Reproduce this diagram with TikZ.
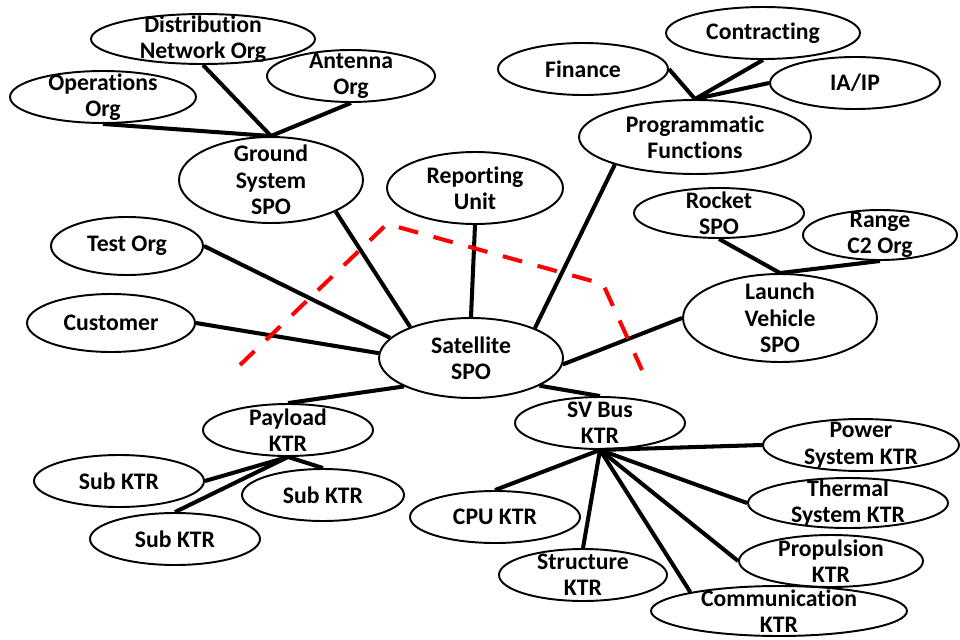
\documentclass[tikz,border=0pt]{standalone}
\usepackage{fontspec}
\setmainfont{Carlito}[Ligatures=NoCommon]
\usetikzlibrary{shapes.geometric}
\tikzset{
	oval/.style 2 args={ellipse, draw, line width=1.1pt, inner sep=0pt, minimum width=#1, minimum height=#2},
	lbl/.style={font=\bfseries\fontsize{13.5}{15}\selectfont, align=center, inner sep=0pt},
	link/.style={line width=2.3pt},
	cutline/.style={red, line width=2.3pt, dash pattern=on 0.4cm off 0.32cm}
}
\begin{document}
\begin{tikzpicture}[x=0.02cm, y=-0.02cm]
			%%%%% START %%%%%
			\useasboundingbox (0, 0) rectangle (960, 639);
			
			% ground side
			\node[oval={4.48cm}{1.0cm}, label={[lbl]center:{Distribution\\Network Org}}] (dist) at (203, 39) {};
			\node[oval={3.36cm}{1.04cm}, label={[lbl]center:{Antenna\\Org}}] (ant) at (351, 76) {};
			\node[oval={3.72cm}{1.04cm}, label={[lbl]center:{Operations\\Org}}] (ops) at (103, 97) {};
			\node[oval={3.68cm}{1.72cm}, label={[lbl]center:{Ground\\System\\SPO}}] (ground) at (271, 180) {};
			\node[oval={3.04cm}{1.16cm}, label={[lbl]center:{Test Org}}] (test) at (127, 246) {};
			\node[oval={3.36cm}{1.16cm}, label={[lbl]center:{Customer}}] (cust) at (111, 323) {};
			\node[oval={3.52cm}{1.44cm}, label={[lbl]center:{Reporting\\Unit}}] (report) at (475, 188) {};
			
			\node[oval={3.68cm}{1.6cm}, label={[lbl]center:{Satellite\\SPO}}] (sat) at (471, 358) {};
			
			% programmatic side
			\node[oval={4.64cm}{1.48cm}, label={[lbl]center:{Programmatic\\Functions}}] (prog) at (695, 137) {};
			\node[oval={3.4cm}{1.04cm}, label={[lbl]center:{Finance}}] (fin) at (583, 69) {};
			\node[oval={3.88cm}{1.04cm}, label={[lbl]center:{Contracting}}] (contr) at (763, 33) {};
			\node[oval={3.4cm}{1.04cm}, label={[lbl]center:{IA/IP}}] (iaip) at (855, 83) {};
			
			% launch side
			\node[oval={3.88cm}{1.76cm}, label={[lbl]center:{Launch\\Vehicle\\SPO}}] (launch) at (780, 318) {};
			\node[oval={3.4cm}{1.0cm}, label={[lbl]center:{Rocket\\SPO}}] (rocket) at (719, 213) {};
			\node[oval={3.08cm}{1.0cm}, label={[lbl]center:{Range\\C2 Org}}] (range) at (880, 235) {};
			
			% payload contractors
			\node[oval={3.4cm}{1.04cm}, label={[lbl]center:{Payload\\KTR}}] (payload) at (288, 430) {};
			\node[oval={3.4cm}{1.04cm}, label={[lbl]center:{Sub KTR}}] (subA) at (119, 481) {};
			\node[oval={3.24cm}{1.04cm}, label={[lbl]center:{Sub KTR}}] (subB) at (323, 495) {};
			\node[oval={3.4cm}{1.04cm}, label={[lbl]center:{Sub KTR}}] (subC) at (175, 539) {};
			
			% bus contractors
			\node[oval={3.4cm}{1.04cm}, label={[lbl]center:{SV Bus\\KTR}}] (bus) at (600, 423) {};
			\node[oval={3.4cm}{1.04cm}, label={[lbl]center:{CPU KTR}}] (cpu) at (495, 517) {};
			\node[oval={3.36cm}{1.04cm}, label={[lbl]center:{Structure\\KTR}}] (struct) at (583, 575) {};
			\node[oval={5.12cm}{1.0cm}, label={[lbl]center:{Communication\\KTR}}] (comm) at (779, 611) {};
			\node[oval={3.68cm}{1.04cm}, label={[lbl]center:{Propulsion\\KTR}}] (prop) at (831, 561) {};
			\node[oval={4.0cm}{1.0cm}, label={[lbl]center:{Thermal\\System KTR}}] (therm) at (848, 503) {};
			\node[oval={3.92cm}{1.04cm}, label={[lbl]center:{Power\\System KTR}}] (power) at (861, 445) {};
			
			% links
			\draw[link] (dist.south) -- (ground.north);
			\draw[link] (ops.south) -- (ground.north);
			\draw[link] (ant.south) -- (ground.north);
			\draw[link] (ground.334) -- (sat.153);
			\draw[link] (test.east) -- (sat.166);
			\draw[link] (cust.east) -- (sat.177);
			\draw[link] (report.south) -- (sat.north);
			\draw[link] (prog.199) -- (sat.25);
			\draw[link] (launch.west) -- (sat.-4);
			
			\draw[link] (fin.east) -- (prog.north);
			\draw[link] (contr.south) -- (prog.north);
			\draw[link] (iaip.west) -- (prog.north);
			
			\draw[link] (rocket.south) -- (launch.north);
			\draw[link] (range.south) -- (launch.north);
			
			\draw[link] (sat.203) -- (payload.north);
			\draw[link] (payload.south) -- (subA.east);
			\draw[link] (payload.south) -- (subB.north);
			\draw[link] (payload.south) -- (subC.north);
			
			\draw[link] (sat.338) -- (bus.north);
			\draw[link] (bus.south) -- (cpu.north);
			\draw[link] (bus.south) -- (struct.north);
			\draw[link] (bus.south) -- (comm.168);
			\draw[link] (bus.south) -- (prop.west);
			\draw[link] (bus.south) -- (therm.west);
			\draw[link] (bus.south) -- (power.west);
			
			% red boundary
			\draw[cutline] (240, 365) -- (387, 224) -- (603, 284) -- (642, 370);
			
			%%%%% END %%%%%
		\end{tikzpicture}
\end{document}
